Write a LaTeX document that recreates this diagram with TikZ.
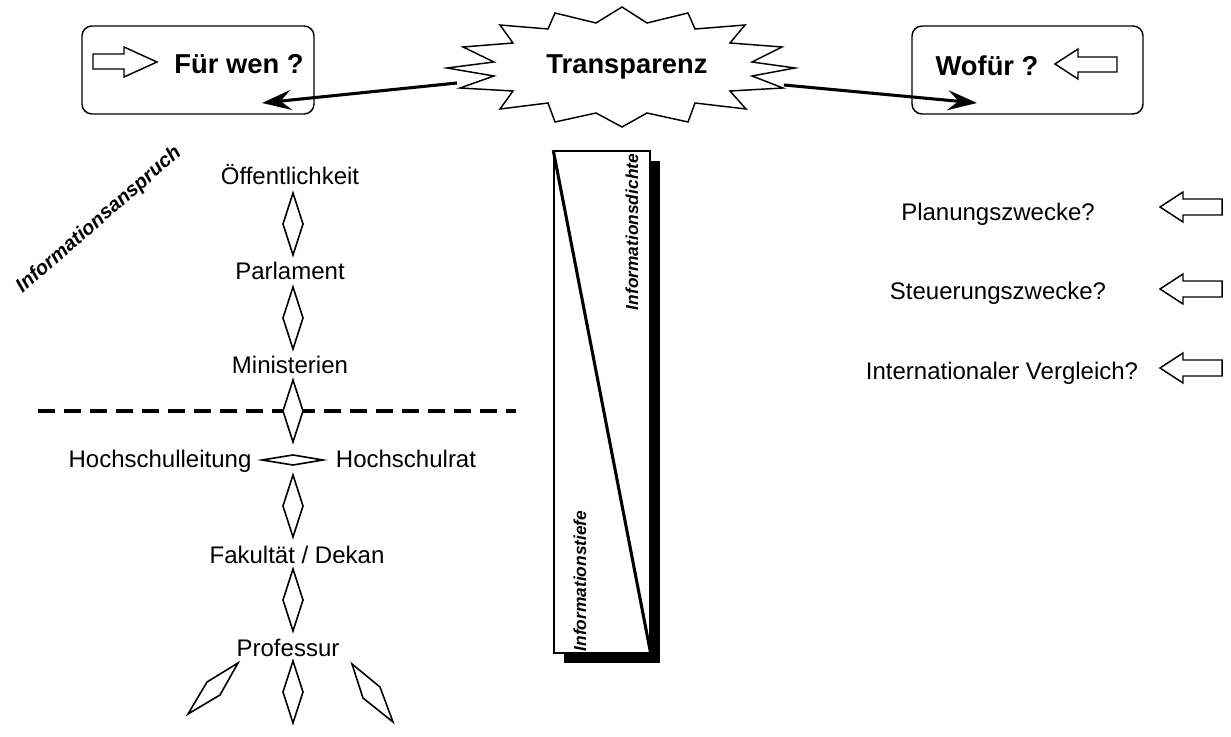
\documentclass[tikz,border=0pt]{standalone}
\usepackage{fontspec}
\setmainfont{Liberation Sans}
\usetikzlibrary{arrows.meta}
\begin{document}
\begin{tikzpicture}[x=0.75pt,y=-0.75pt,
  lbl/.style={font=\fontsize{18}{21}\selectfont, inner sep=0pt, anchor=base},
  head/.style={font=\bfseries\fontsize{20.5}{24}\selectfont, inner sep=0pt, anchor=base},
  ital/.style={font=\bfseries\itshape\fontsize{13}{15}\selectfont, inner sep=0pt},
  box/.style={draw, line width=1.1pt, rounded corners=7.5pt, inner sep=0pt},
  hollow/.style={draw, line width=1.1pt, fill=white, line join=miter},
  dia/.style={draw, line width=1.2pt, fill=white},
  bigarrow/.style={-{Stealth[length=22pt,width=15pt,inset=8pt]}, line width=2.3pt},
  vdia/.pic={\draw[dia] (0,-31) -- (10,0) -- (0,31) -- (-10,0) -- cycle;},
  larrow/.pic={\draw[hollow] (0,0) -- (23,-15) -- (23,-8) -- (62,-8) -- (62,8) -- (23,8) -- (23,15) -- cycle;}
]
\useasboundingbox (0,0) rectangle (1231,737);

% top boxes
\node[box, minimum width=174pt, minimum height=66pt] (fw) at (198,70) {};
\node[box, minimum width=173.25pt, minimum height=66pt] (wf) at (1027.5,70) {};
\node[head] (fwt) at (239,74) {Für wen ?};
\node[head] (wft) at (987,76) {Wofür ?};
\draw[hollow] (93,54) -- (124,54) -- (124,47) -- (157,62) -- (124,77) -- (124,69) -- (93,69) -- cycle;
\draw[hollow] (1055,64) -- (1078,49) -- (1078,57) -- (1117,57) -- (1117,72) -- (1078,72) -- (1078,79) -- cycle;

% starburst
\draw[line width=1.1pt, fill=white, line join=miter]
 (622,7) -- (647,23) -- (688,13) -- (695,29) -- (745,25) -- (730,43) -- (782,47)
 -- (752,62) -- (795,68) -- (752,76) -- (783,88) -- (730,91) -- (746,109)
 -- (695,103) -- (688,122) -- (647,113) -- (622,127) -- (596,113) -- (555,122)
 -- (548,103) -- (500,109) -- (513,91) -- (460,88) -- (494,76) -- (447,68)
 -- (494,62) -- (463,47) -- (513,43) -- (500,25) -- (548,29) -- (555,13)
 -- (596,23) -- cycle;
\node[head] (tr) at (627,74) {Transparenz};
\coordinate (trL) at (457,83);
\coordinate (trR) at (784,85);
\coordinate (fwIn) at (262,103);
\coordinate (wfIn) at (977,103);
\draw[bigarrow] (trL) -- (fwIn);
\draw[bigarrow] (trR) -- (wfIn);

% left hierarchy
\node[ital, rotate=41] (ansp) at (99,220) {\fontsize{15}{17}\selectfont Informationsanspruch};
\node[lbl] (oef) at (290,185) {Öffentlichkeit};
\node[lbl] (parl) at (290,280) {Parlament};
\node[lbl] (min) at (290,374) {Ministerien};
\node[lbl] (hsl) at (160,468) {Hochschulleitung};
\node[lbl] (hsr) at (406,468) {Hochschulrat};
\node[lbl] (fak) at (297,563) {Fakultät / Dekan};
\node[lbl] (prof) at (288,656) {Professur};

\draw[line width=3pt, dash pattern=on 13pt off 6.5pt] (38,411) -- (516,411);

\pic at (293,224) {vdia};
\pic at (293,318) {vdia};
\pic at (293,411) {vdia};
\pic at (293,506) {vdia};
\pic at (293,600) {vdia};
\pic at (293,692) {vdia};
\draw[dia] (262,460) -- (293,455) -- (323,460) -- (293,465) -- cycle;
\draw[dia] (238,663) -- (220,695) -- (188,714) -- (207,682) -- cycle;
\draw[dia] (352,664) -- (380,687) -- (393,722) -- (363,698) -- cycle;

% bar
\fill[black] (564,161) rectangle (660,663);
\node[draw, fill=white, line width=1.1pt, inner sep=0pt, minimum width=72pt, minimum height=376.5pt] (bar) at (602,402) {};
\draw[line width=2.3pt] (bar.north west) -- (bar.south east);
\node[ital, rotate=90] (dichte) at (632,232) {Informationsdichte};
\node[ital, rotate=90] (tiefe) at (580,581) {Informationstiefe};

% right column
\node[lbl] (plan) at (998,221) {Planungszwecke?};
\node[lbl] (steu) at (998,300) {Steuerungszwecke?};
\node[lbl] (intl) at (1002,380) {Internationaler Vergleich?};
\pic at (1160,207) {larrow};
\pic at (1160,289) {larrow};
\pic at (1160,368) {larrow};
\end{tikzpicture}
\end{document}
